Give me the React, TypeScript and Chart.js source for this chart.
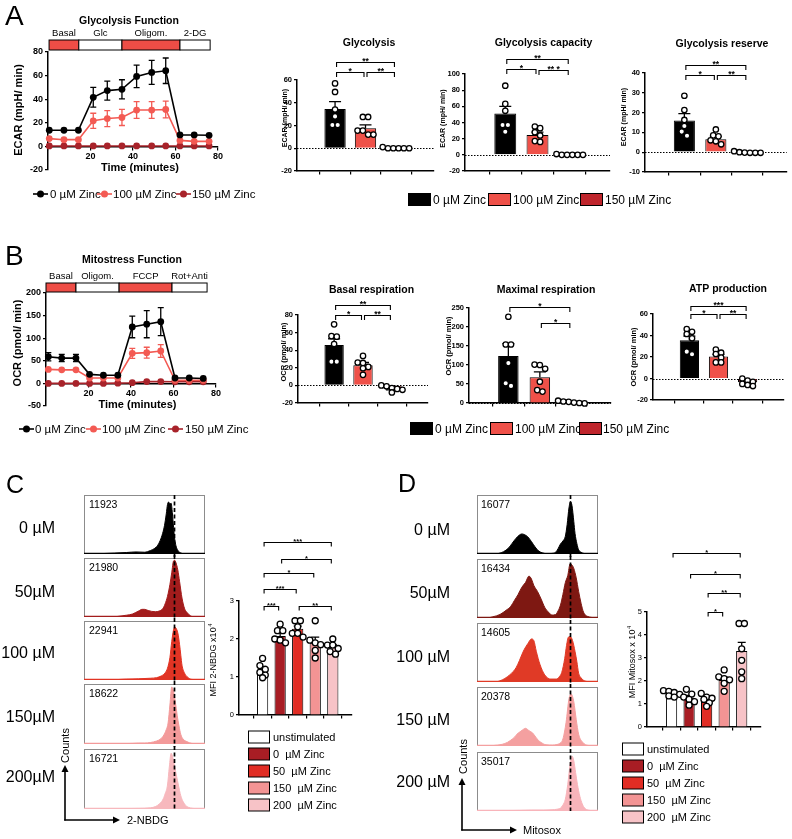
import React, { useEffect, useRef } from 'react';
import { Chart, registerables } from 'chart.js';

Chart.register(...registerables);

if (typeof document !== 'undefined') {
  document.body.style.margin = '0';
  document.body.style.background = '#ffffff';
}

const FONT = "'Liberation Sans', Arial, Helvetica, sans-serif";
const font = (size: number, bold = false) => `${bold ? 'bold ' : ''}${size}px ${FONT}`;

/* ============================== DATA ============================== */

// ---- Panel A : Glycolysis function time course (ECAR, mpH/min) ----
const gfTime = [0.6, 7.5, 14.3, 21.3, 27.9, 34.8, 41.7, 48.8, 55.4, 62.1, 68.8, 75.8];
const gfZinc0 = [13.7, 13.7, 13.7, 41.6, 47.3, 48.4, 59.3, 62.7, 64.1, 9.7, 9.7, 9.4];
const gfZinc0Sem = [1.5, 1.5, 1.5, 8.4, 8.1, 8.1, 9.5, 10.2, 10.8, 1.2, 1.2, 1.2];
const gfZinc100 = [6.6, 5.7, 5.7, 21.7, 23.6, 24.5, 30.8, 30.8, 31.3, 5.1, 4.3, 4.3];
const gfZinc100Sem = [0.8, 0.8, 0.8, 6.4, 6.8, 6.8, 7.1, 7.1, 7.1, 0.9, 0.9, 0.9];
const gfZinc150 = [0.4, 0.4, 0.4, 0.4, 0.4, 0.4, 0.4, 0.4, 0.4, 0.4, 0.4, 0.4];
const gfZinc150Sem = [0.2, 0.2, 0.2, 0.2, 0.2, 0.2, 0.2, 0.2, 0.2, 0.2, 0.2, 0.2];
const gfStageEdges = [0.5, 14.5, 34.8, 62.1, 76.3];
const gfStages = ['Basal', 'Glc', 'Oligom.', '2-DG'];

// ---- Panel A : bar summaries ----
const zincGroups = ['0 µM Zinc', '100 µM Zinc', '150 µM Zinc'];
const glycolysisMean = [34.5, 17.5, 0];
const glycolysisSem = [6.5, 3, 0];
const glycolysisDots = [[57, 49.5, 34, 28, 20.5, 20.5], [27.5, 27.5, 15.5, 15.5, 12, 12], [0, 0, 0, 0, 0, 1]];
const glycolysisSig = [
  { a: 0, b: 2, level: 76, label: '**' },
  { a: 0, b: 1, level: 67, label: '*' },
  { a: 1, b: 2, level: 67, label: '**' },
];
const capacityMean = [51, 24.5, 0];
const capacitySem = [9, 3.5, 0];
const capacityDots = [[85.5, 63, 54.5, 37, 37, 28.5], [35, 33, 28, 24, 17, 16], [0, 0, 0, 0, 0, 1]];
const capacitySig = [
  { a: 0, b: 2, level: 118.5, label: '**' },
  { a: 0, b: 1, level: 106, label: '*' },
  { a: 1, b: 2, level: 105, label: '** *' },
];
const reserveMean = [16, 6.5, 0];
const reserveSem = [3.5, 1.5, 0];
const reserveDots = [[28.5, 21.3, 16.3, 13.2, 10.4, 8.3], [11.5, 8.5, 8, 6, 5.5, 4], [0, -0.3, -0.3, -0.3, -0.2, 0.5]];
const reserveSig = [
  { a: 0, b: 2, level: 44, label: '**' },
  { a: 0, b: 1, level: 39, label: '*' },
  { a: 1, b: 2, level: 39, label: '**' },
];

// ---- Panel B : Mitostress time course (OCR, pmol/min) ----
const msTime = [1.1, 7.4, 14.1, 20.5, 27.0, 33.8, 40.6, 47.4, 54.0, 60.7, 67.4, 74.0];
const msZinc0 = [59, 56, 56, 20, 18, 18, 125, 131, 136.5, 12, 12, 11];
const msZinc0Sem = [9, 8, 8, 3, 3, 3, 24, 30, 31, 2, 2, 2];
const msZinc100 = [31, 30, 30, 12, 12, 12, 66.5, 68, 71.7, 7, 7, 7];
const msZinc100Sem = [5, 5, 5, 2, 2, 2, 11, 12, 14, 1.5, 1.5, 1.5];
const msZinc150 = [0, 0, 0, 0, 0, 0.5, 1.5, 4, 4, 3.5, 3.5, 3.5];
const msZinc150Sem = [0.5, 0.5, 0.5, 0.5, 0.5, 0.5, 0.5, 0.5, 0.5, 0.5, 0.5, 0.5];
const msStageEdges = [0, 14.1, 34.4, 59.3, 75.8];
const msStages = ['Basal', 'Oligom.', 'FCCP', 'Rot+Anti'];

// ---- Panel B : bar summaries ----
const basalMean = [46, 23, -3.5];
const basalSem = [7, 3, 1.5];
const basalDots = [[69.4, 56, 55.4, 47, 27, 27], [33.5, 26, 25.5, 21, 19.5, 12], [0, -1, -3, -4, -5, -8]];
const basalSig = [
  { a: 0, b: 2, level: 91.4, label: '**' },
  { a: 0, b: 1, level: 80, label: '*' },
  { a: 1, b: 2, level: 80, label: '**' },
];
const maximalMean = [124, 68, 3];
const maximalSem = [32, 14, 1.5];
const maximalDots = [[227, 154, 154, 105, 52, 45], [101, 100, 90, 56, 34, 30], [6, 3, 1, -1, 0, 4]];
const maximalSig = [
  { a: 0, b: 2, level: 252.6, label: '*' },
  { a: 1, b: 2, level: 210.5, label: '*' },
];
const atpMean = [35.5, 20.5, -3.5];
const atpSem = [4, 2, 1.5];
const atpDots = [[46, 43.5, 41.4, 37.4, 25, 22.5], [27, 24, 22.8, 19.4, 15, 15], [0, -2, -3, -5, -6, -7]];
const atpSig = [
  { a: 0, b: 2, level: 67.7, label: '***' },
  { a: 0, b: 1, level: 60, label: '*' },
  { a: 1, b: 2, level: 60, label: '**' },
];

// ---- Panels C / D : flow cytometry ----
const doseLabelsC = ['0 µM', '50µM', '100 µM', '150µM', '200µM'];
const doseLabelsD = ['0 µM', '50µM', '100 µM', '150 µM', '200 µM'];
const nbdgMfi = ['11923', '21980', '22941', '18622', '16721'];
const mitosoxMfi = ['16077', '16434', '14605', '20378', '35017'];
const nbdgMarker = 74.4; // % of the fluorescence axis
const mitosoxMarker = 76.9;

// histogram outlines: x = % of fluorescence axis, y = % of modal count
const nbdgShapeX = [
  [0, 12, 25, 35, 43, 50, 55, 58, 61, 63, 65, 66.5, 68, 69, 70, 71, 72, 73, 74, 75, 76, 77, 79, 81, 85, 100],
  [0, 20, 28, 35, 40, 45, 48, 50, 53, 56, 59, 62, 65, 67, 69, 71, 72.5, 74, 75, 76, 77.5, 79, 81, 83, 85, 88, 92, 100],
  [0, 25, 35, 45, 55, 60, 64, 67, 69, 71, 72.5, 74, 75, 76, 77.5, 79, 80, 81, 83, 85, 89, 100],
  [0, 30, 40, 45, 50, 55, 60, 63, 66, 68, 69.5, 71, 72.5, 74, 75.5, 77, 78.5, 80, 82, 85, 89, 100],
  [0, 30, 45, 55, 59, 62, 65, 67, 69, 70.5, 72, 73.5, 75, 76.5, 78, 80, 82, 84, 86, 90, 100],
];
const nbdgShapeY = [
  [0, 0.5, 1.5, 2.5, 3.5, 3, 6, 9, 15, 23, 35, 48, 68, 84, 88, 85, 86, 70, 45, 25, 14, 8, 3, 1, 0, 0],
  [0, 0, 1, 3, 5, 10, 13, 13, 11, 9.5, 9, 10, 14, 22, 35, 55, 75, 95, 96, 92, 80, 60, 32, 15, 8, 2, 0, 0],
  [0, 0.5, 1.5, 2, 3, 4, 7, 12, 20, 38, 65, 85, 90, 88, 80, 60, 42, 25, 12, 6, 1, 0],
  [0, 0.5, 1, 1.5, 1.5, 2.5, 5, 8, 15, 24, 35, 65, 95, 88, 70, 48, 30, 16, 8, 4, 1, 0],
  [0, 0.5, 1, 2, 4, 8, 15, 25, 40, 70, 93, 85, 70, 55, 40, 22, 12, 6, 3, 1, 0],
];
const mitosoxShapeX = [
  [0, 12, 18, 22, 26, 29, 32, 35, 37, 39, 42, 45, 48, 51, 54, 58, 62, 65, 67, 69, 71, 73, 74.5, 76, 77.3, 78.5, 80, 81, 82.5, 84, 86, 90, 100],
  [0, 8, 13, 19, 24, 28, 31, 34, 37, 40, 43, 45, 47, 50, 53, 56, 59, 62, 65, 67, 69, 71, 73, 75, 77, 78.5, 80, 82, 84, 86, 88, 91, 100],
  [0, 15, 19, 23, 27, 30, 32.5, 35, 37, 39, 42, 45, 47, 49, 52, 56, 61, 65.5, 68, 70, 72.5, 74, 75.5, 77, 79, 81, 82.5, 84, 86, 88, 92, 100],
  [0, 12, 17, 21, 25, 28, 31, 33, 35.5, 37.5, 40, 43, 46, 48.6, 51, 53, 57, 62.5, 66, 68, 71, 73.6, 76, 77.8, 80, 82, 84, 87.5, 91.7, 100],
  [0, 20, 35, 45, 55, 62, 66, 69, 71, 73, 75, 77, 78.6, 80, 81.5, 83, 85, 87, 89, 92, 100],
];
const mitosoxShapeY = [
  [0, 0, 1, 4, 10, 18, 26, 32, 34, 33, 29, 21, 12, 5, 2, 0.5, 1, 3, 9, 17, 22, 30, 50, 78, 89, 82, 55, 35, 18, 7, 3, 0.5, 0],
  [0, 0, 2, 6, 13, 20, 30, 40, 52, 60, 71, 66, 55, 45, 32, 18, 10, 5, 6, 12, 22, 40, 60, 72, 92, 90, 84, 68, 45, 25, 10, 3, 0],
  [0, 0, 2, 6, 12, 18, 25, 36, 46, 55, 65, 73, 70, 52, 30, 12, 5, 5, 9, 16, 40, 62, 76, 77, 70, 52, 35, 15, 7, 3, 0.5, 0],
  [0, 0.5, 1.5, 3, 6, 10, 15, 20, 24, 27, 30, 26, 22, 15, 9, 6, 2, 1.5, 2.5, 4, 12, 40, 80, 88, 75, 45, 20, 6, 1, 0],
  [0, 0.5, 1, 1.5, 1.5, 2, 3, 5, 10, 20, 45, 80, 93, 85, 65, 45, 25, 12, 5, 1.5, 0],
];

// ---- Panels C / D : MFI bar summaries (x10^4) ----
const mfiGroups = ['unstimulated', '0  µM Zinc', '50  µM Zinc', '150  µM Zinc', '200  µM Zinc'];
const nbdgMean = [1.2, 2.08, 2.27, 1.9, 1.78];
const nbdgSem = [0.08, 0.08, 0.07, 0.15, 0.07];
const nbdgDots = [
  [1.49, 1.3, 1.2, 1.12, 1.05, 0.98],
  [2.39, 2.22, 2.22, 2.0, 1.97, 1.9],
  [2.48, 2.48, 2.32, 2.15, 2.15, 2.05],
  [2.48, 1.97, 1.9, 1.85, 1.7, 1.5],
  [2.0, 1.84, 1.84, 1.75, 1.67, 1.6],
];
const nbdgSig = [
  { a: 0, b: 4, level: 4.55, label: '***' },
  { a: 1, b: 4, level: 4.1, label: '*' },
  { a: 0, b: 3, level: 3.74, label: '*' },
  { a: 0, b: 2, level: 3.32, label: '***' },
  { a: 0, b: 1, level: 2.87, label: '***' },
  { a: 2, b: 4, level: 2.87, label: '**' },
];
const mitosoxMean = [1.45, 1.27, 1.2, 2.04, 3.3];
const mitosoxSem = [0.05, 0.1, 0.08, 0.13, 0.38];
const mitosoxDots = [
  [1.58, 1.55, 1.5, 1.42, 1.35, 1.3],
  [1.64, 1.43, 1.3, 1.2, 1.1, 0.95],
  [1.46, 1.3, 1.25, 1.2, 1.05, 0.9],
  [2.48, 2.18, 2.1, 2.05, 1.9, 1.55],
  [4.5, 4.5, 3.4, 2.9, 2.4, 2.1],
];
const mitosoxSig = [
  { a: 0, b: 4, level: 7.57, label: '*' },
  { a: 1, b: 4, level: 6.65, label: '*' },
  { a: 2, b: 4, level: 5.83, label: '**' },
  { a: 2, b: 3, level: 5.0, label: '*' },
];

/* ============================== STYLE ============================== */
const BLACK = '#000000';
const RED = '#ef5149';
const DARK = '#bf252c';
const LINE_RED = '#f35a53';
const LINE_DARK = '#a8232a';
const STAGE_RED = '#ee4d46';
const zincColors = [BLACK, RED, DARK];
const mfiColors = ['#ffffff', '#a81d24', '#e12d24', '#f39494', '#f7c3c7'];
const histColorsC = ['#000000', '#a31c1c', '#e13424', '#f39a9a', '#f7b8bd'];
const histColorsD = ['#000000', '#7e1812', '#e03a26', '#f4a0a0', '#f8b4ba'];

/* ============================== HELPERS ============================== */
type Rect = [number, number, number, number]; // left, top, width, height
type Plot = [number, number, number, number]; // left, top, right, bottom

function frame(box: Rect, plot: Plot) {
  return {
    top: plot[1] - box[1],
    right: box[0] + box[2] - plot[2],
    yWidth: plot[0] - box[0],
    xHeight: box[1] + box[3] - plot[3],
  };
}

function drawText(ctx: any, box: Rect, s: string, x: number, y: number, f: string, align = 'center', rot = 0) {
  ctx.save();
  ctx.translate(x - box[0], y - box[1]);
  if (rot) ctx.rotate(rot);
  ctx.font = f;
  ctx.fillStyle = '#000';
  ctx.textAlign = align;
  ctx.textBaseline = 'middle';
  ctx.fillText(s, 0, 0);
  ctx.restore();
}

function drawRotated(ctx: any, box: Rect, main: string, sup: string | undefined, x: number, y: number, size: number, bold: boolean) {
  ctx.save();
  ctx.translate(x - box[0], y - box[1]);
  ctx.rotate(-Math.PI / 2);
  ctx.fillStyle = '#000';
  ctx.textBaseline = 'middle';
  ctx.textAlign = 'left';
  ctx.font = font(size, bold);
  const w1 = ctx.measureText(main).width;
  let w2 = 0;
  if (sup) {
    ctx.font = font(size * 0.65, bold);
    w2 = ctx.measureText(sup).width + 0.5;
  }
  const start = -(w1 + w2) / 2;
  ctx.font = font(size, bold);
  ctx.fillText(main, start, 0);
  if (sup) {
    ctx.font = font(size * 0.65, bold);
    ctx.fillText(sup, start + w1 + 0.5, -size * 0.45);
  }
  ctx.restore();
}

function beeswarm(els: any[], groupOf: number[], pitch: number, rowGap: number) {
  const groups: Record<number, any[]> = {};
  els.forEach((el, j) => {
    const g = groupOf[j];
    (groups[g] = groups[g] || []).push(el);
  });
  Object.values(groups).forEach(list => {
    const sorted = [...list].sort((a, b) => a.y - b.y);
    let row: any[] = [];
    const flush = () => {
      const n = row.length;
      row.forEach((el, k) => { el.x = el.x + (k - (n - 1) / 2) * pitch; });
      row = [];
    };
    sorted.forEach(el => {
      if (row.length && el.y - row[0].y > rowGap) flush();
      row.push(el);
    });
    flush();
  });
}

function ChartCanvas({ box, build }: { box: Rect; build: () => any }) {
  const ref = useRef<HTMLCanvasElement | null>(null);
  useEffect(() => {
    if (!ref.current) return;
    const chart = new Chart(ref.current, build());
    return () => chart.destroy();
  }, []);
  return (
    <canvas
      ref={ref}
      width={box[2]}
      height={box[3]}
      style={{ position: 'absolute', left: box[0], top: box[1], width: box[2], height: box[3] }}
    />
  );
}

const axisGrid = (len: number) => ({ display: true, drawOnChartArea: false, drawTicks: true, tickLength: len, color: '#000', lineWidth: 1.2 });
const axisBorder = { display: true, color: '#000', width: 1.5 };
const basePlugins = { legend: { display: false }, tooltip: { enabled: false }, title: { display: false } };

/* ---------------- time-course line chart ---------------- */
interface Series { y: number[]; err: number[]; color: string }
interface LineSpec {
  box: Rect; plot: Plot; time: number[]; series: Series[];
  yMin: number; yMax: number; yStep: number;
  edges: number[]; stages: string[]; barTop: number; barBottom: number; stageY: number;
  title: string; titleX: number; titleY: number;
  yTitle: string; yTitleX: number; yTitleY: number;
  xTitleX: number; xTitleY: number;
}

function lineConfig(s: LineSpec) {
  const fr = frame(s.box, s.plot);
  const tickFont = { family: FONT, size: 9, weight: 'bold' };
  const decor = {
    id: 'lineDecor',
    beforeDatasetsDraw(chart: any) {
      const ctx = chart.ctx; const xs = chart.scales.x; const ys = chart.scales.y;
      ctx.save();
      ctx.lineWidth = 1.3;
      [...s.series].reverse().forEach(se => {
        ctx.strokeStyle = se.color;
        s.time.forEach((t, i) => {
          const x = xs.getPixelForValue(t);
          const y1 = ys.getPixelForValue(se.y[i] - se.err[i]);
          const y2 = ys.getPixelForValue(se.y[i] + se.err[i]);
          if (Math.abs(y2 - y1) < 5) return;
          ctx.beginPath();
          ctx.moveTo(x, y1); ctx.lineTo(x, y2);
          ctx.moveTo(x - 3, y1); ctx.lineTo(x + 3, y1);
          ctx.moveTo(x - 3, y2); ctx.lineTo(x + 3, y2);
          ctx.stroke();
        });
      });
      ctx.restore();
    },
    afterDraw(chart: any) {
      const ctx = chart.ctx; const xs = chart.scales.x;
      const top = s.barTop - s.box[1]; const h = s.barBottom - s.barTop;
      ctx.save();
      for (let i = 0; i < s.stages.length; i++) {
        const x0 = xs.getPixelForValue(s.edges[i]);
        const x1 = xs.getPixelForValue(s.edges[i + 1]);
        ctx.fillStyle = i % 2 === 0 ? STAGE_RED : '#ffffff';
        ctx.fillRect(x0, top, x1 - x0, h);
        ctx.strokeStyle = '#000'; ctx.lineWidth = 1;
        ctx.strokeRect(x0, top, x1 - x0, h);
        drawText(ctx, [0, s.box[1], 0, 0], s.stages[i], (x0 + x1) / 2, s.stageY, font(9.5));
      }
      ctx.restore();
      drawText(ctx, s.box, s.title, s.titleX, s.titleY, font(10.5, true));
      drawText(ctx, s.box, s.yTitle, s.yTitleX, s.yTitleY, font(11, true), 'center', -Math.PI / 2);
      drawText(ctx, s.box, 'Time (minutes)', s.xTitleX, s.xTitleY, font(11, true));
    },
  };
  return {
    type: 'line',
    data: {
      datasets: s.series.map(se => ({
        data: s.time.map((t, i) => ({ x: t, y: se.y[i] })),
        borderColor: se.color,
        backgroundColor: se.color,
        pointBackgroundColor: se.color,
        pointBorderColor: se.color,
        pointRadius: 3.4,
        pointBorderWidth: 0,
        borderWidth: 1.6,
        tension: 0,
        clip: false,
      })),
    },
    options: {
      responsive: false,
      animation: false,
      devicePixelRatio: 1,
      events: [],
      layout: { padding: { left: 0, top: fr.top, right: fr.right, bottom: fr.xHeight } },
      plugins: basePlugins,
      scales: {
        x: {
          type: 'linear', min: 0, max: 80, position: { y: 0 },
          ticks: { stepSize: 20, font: tickFont, color: '#000', padding: 2, maxRotation: 0, callback: (v: number) => (v === 0 ? '' : String(v)) },
          grid: axisGrid(3),
          border: axisBorder,
        },
        y: {
          type: 'linear', min: s.yMin, max: s.yMax,
          afterFit: (sc: any) => { sc.width = fr.yWidth; },
          ticks: { stepSize: s.yStep, font: tickFont, color: '#000', padding: 2 },
          grid: axisGrid(3),
          border: axisBorder,
        },
      },
    },
    plugins: [decor],
  };
}

/* ---------------- bar + dot summary chart ---------------- */
interface Bracket { a: number; b: number; level: number; label: string }
interface BarSpec {
  box: Rect; plot: Plot;
  mean: number[]; sem: number[]; dots: number[][]; colors: string[];
  xMin: number; xMax: number; yMin: number; yMax: number; yStep: number;
  barPct: number; brackets: Bracket[]; zeroLine: boolean;
  title?: string; titleX?: number; titleY?: number;
  yTitle: string; ySup?: string; yTitleX: number; yTitleY: number; yTitleSize: number; yTitleBold: boolean;
  tickSize: number; tickBold: boolean;
  dotR: number; pitch: number; rowGap: number; capHalf: number; starSize: number; bracketTick: number;
}

function barConfig(s: BarSpec) {
  const fr = frame(s.box, s.plot);
  const groupOf: number[] = [];
  const dotPoints: { x: number; y: number }[] = [];
  s.dots.forEach((g, i) => g.forEach(v => { groupOf.push(i); dotPoints.push({ x: i, y: v }); }));
  const tickFont = { family: FONT, size: s.tickSize, weight: s.tickBold ? 'bold' : 'normal' };
  const decor = {
    id: 'barDecor',
    afterDatasetUpdate(chart: any, args: any) {
      if (args.index !== 0) return;
      beeswarm(args.meta.data, groupOf, s.pitch, s.rowGap);
    },
    beforeDatasetsDraw(chart: any) {
      if (!s.zeroLine) return;
      const ctx = chart.ctx; const a = chart.chartArea;
      const y = Math.round(chart.scales.y.getPixelForValue(0)) + 0.5;
      ctx.save();
      ctx.strokeStyle = '#000'; ctx.lineWidth = 1; ctx.setLineDash([1.5, 1.5]);
      ctx.beginPath(); ctx.moveTo(a.left, y); ctx.lineTo(a.right, y); ctx.stroke();
      ctx.restore();
    },
    afterDatasetDraw(chart: any, args: any) {
      if (args.index !== 1) return;
      const ctx = chart.ctx; const ys = chart.scales.y;
      ctx.save();
      ctx.strokeStyle = '#000'; ctx.lineWidth = 1.3;
      args.meta.data.forEach((bar: any, i: number) => {
        const m = s.mean[i]; const e = s.sem[i]; const dir = m < 0 ? -1 : 1;
        const y0 = ys.getPixelForValue(m); const y1 = ys.getPixelForValue(m + dir * e);
        if (Math.abs(y1 - y0) < 0.8) return;
        ctx.beginPath();
        ctx.moveTo(bar.x, y0); ctx.lineTo(bar.x, y1);
        ctx.moveTo(bar.x - s.capHalf, y1); ctx.lineTo(bar.x + s.capHalf, y1);
        ctx.stroke();
      });
      ctx.restore();
    },
    afterDraw(chart: any) {
      const ctx = chart.ctx; const xs = chart.scales.x; const ys = chart.scales.y;
      ctx.save();
      ctx.strokeStyle = '#000'; ctx.lineWidth = 1.1; ctx.fillStyle = '#000';
      s.brackets.forEach(b => {
        const xa = xs.getPixelForValue(b.a) + 1.5;
        const xb = xs.getPixelForValue(b.b) - 1.5;
        const y = Math.round(ys.getPixelForValue(b.level)) + 0.5;
        ctx.beginPath();
        ctx.moveTo(xa, y + s.bracketTick); ctx.lineTo(xa, y); ctx.lineTo(xb, y); ctx.lineTo(xb, y + s.bracketTick);
        ctx.stroke();
        ctx.font = font(s.starSize, true);
        ctx.textAlign = 'center'; ctx.textBaseline = 'alphabetic';
        ctx.fillText(b.label, (xa + xb) / 2, y + 1);
      });
      ctx.restore();
      if (s.title) drawText(ctx, s.box, s.title, s.titleX as number, s.titleY as number, font(10.5, true));
      drawRotated(ctx, s.box, s.yTitle, s.ySup, s.yTitleX, s.yTitleY, s.yTitleSize, s.yTitleBold);
    },
  };
  return {
    type: 'bar',
    data: {
      datasets: [
        {
          type: 'scatter',
          data: dotPoints,
          pointRadius: s.dotR,
          pointBackgroundColor: '#ffffff',
          pointBorderColor: '#000000',
          pointBorderWidth: 1.3,
          clip: false,
        },
        {
          type: 'bar',
          data: s.mean.map((m, i) => ({ x: i, y: m })),
          backgroundColor: s.colors,
          borderColor: '#000000',
          borderWidth: 1,
          barPercentage: s.barPct,
          categoryPercentage: 1,
        },
      ],
    },
    options: {
      responsive: false,
      animation: false,
      devicePixelRatio: 1,
      events: [],
      layout: { padding: { left: 0, top: fr.top, right: fr.right, bottom: 0 } },
      plugins: basePlugins,
      scales: {
        x: {
          type: 'linear', min: s.xMin, max: s.xMax, position: 'bottom',
          afterBuildTicks: (sc: any) => { sc.ticks = s.mean.map((_, i) => ({ value: i })); },
          afterFit: (sc: any) => { sc.height = fr.xHeight; },
          ticks: { callback: () => '' },
          grid: axisGrid(3.5),
          border: axisBorder,
        },
        y: {
          type: 'linear', min: s.yMin, max: s.yMax,
          afterFit: (sc: any) => { sc.width = fr.yWidth; },
          ticks: { stepSize: s.yStep, font: tickFont, color: '#000', padding: 2 },
          grid: axisGrid(3),
          border: axisBorder,
        },
      },
    },
    plugins: [decor],
  };
}

/* ---------------- histogram ---------------- */
interface HistSpec { rect: Plot; xs: number[]; ys: number[]; color: string; mfi: string; marker: number; first: boolean; last: boolean; textDy: number; textDx: number }

function histBox(s: HistSpec): Rect {
  return [s.rect[0], s.rect[1] - 3, s.rect[2] - s.rect[0], s.rect[3] - s.rect[1] + 6];
}

function histConfig(s: HistSpec) {
  const decor = {
    id: 'histDecor',
    afterDraw(chart: any) {
      const ctx = chart.ctx; const a = chart.chartArea; const xs = chart.scales.x;
      ctx.save();
      ctx.strokeStyle = '#8c8c8c'; ctx.lineWidth = 1;
      ctx.strokeRect(a.left + 0.5, a.top + 0.5, a.right - a.left - 1, a.bottom - a.top - 1);
      ctx.strokeStyle = s.color; ctx.lineWidth = 1.3;
      ctx.beginPath(); ctx.moveTo(a.left, a.bottom - 0.7); ctx.lineTo(a.right, a.bottom - 0.7); ctx.stroke();
      const mx = Math.round(xs.getPixelForValue(s.marker)) + 0.5;
      ctx.strokeStyle = '#000'; ctx.lineWidth = 1.7; ctx.setLineDash([4, 2.5]);
      ctx.beginPath();
      ctx.moveTo(mx, s.first ? a.top : 0);
      ctx.lineTo(mx, s.last ? a.bottom : chart.height);
      ctx.stroke();
      ctx.setLineDash([]);
      ctx.font = font(10.5); ctx.fillStyle = '#000'; ctx.textAlign = 'left'; ctx.textBaseline = 'alphabetic';
      ctx.fillText(s.mfi, a.left + s.textDx, a.top + s.textDy);
      ctx.restore();
    },
  };
  return {
    type: 'line',
    data: {
      datasets: [{
        data: s.xs.map((x, i) => ({ x, y: s.ys[i] })),
        borderColor: s.color,
        backgroundColor: s.color,
        fill: 'origin',
        pointRadius: 0,
        borderWidth: 1,
        cubicInterpolationMode: 'monotone',
      }],
    },
    options: {
      responsive: false,
      animation: false,
      devicePixelRatio: 1,
      events: [],
      layout: { padding: { left: 0, right: 0, top: 3, bottom: 3 } },
      plugins: basePlugins,
      scales: {
        x: { type: 'linear', min: 0, max: 100, display: false },
        y: { type: 'linear', min: 0, max: 100, display: false },
      },
    },
    plugins: [decor],
  };
}

/* ============================== SPECS ============================== */
const A_LINE: LineSpec = {
  box: [0, 0, 262, 180], plot: [48, 52, 218, 170], time: gfTime,
  series: [
    { y: gfZinc0, err: gfZinc0Sem, color: BLACK },
    { y: gfZinc100, err: gfZinc100Sem, color: LINE_RED },
    { y: gfZinc150, err: gfZinc150Sem, color: LINE_DARK },
  ],
  yMin: -20, yMax: 80, yStep: 20,
  edges: gfStageEdges, stages: gfStages, barTop: 40, barBottom: 50, stageY: 33,
  title: 'Glycolysis Function', titleX: 129, titleY: 21,
  yTitle: 'ECAR (mpH/ min)', yTitleX: 19, yTitleY: 110,
  xTitleX: 140, xTitleY: 168,
};

const B_LINE: LineSpec = {
  box: [0, 240, 262, 180], plot: [46, 293, 216, 406], time: msTime,
  series: [
    { y: msZinc0, err: msZinc0Sem, color: BLACK },
    { y: msZinc100, err: msZinc100Sem, color: LINE_RED },
    { y: msZinc150, err: msZinc150Sem, color: LINE_DARK },
  ],
  yMin: -50, yMax: 200, yStep: 50,
  edges: msStageEdges, stages: msStages, barTop: 283, barBottom: 292, stageY: 276,
  title: 'Mitostress Function', titleX: 132, titleY: 260,
  yTitle: 'OCR (pmol/ min)', yTitleX: 18, yTitleY: 343,
  xTitleX: 137.5, xTitleY: 405,
};

const seahorseBar = {
  colors: zincColors, xMin: -0.5, xMax: 2.5, tickSize: 7.5, tickBold: true,
  yTitleSize: 7, yTitleBold: true, dotR: 2.7, pitch: 5.3, rowGap: 4.5, capHalf: 6, starSize: 8.5, bracketTick: 4.5,
};

const GLY: BarSpec = {
  ...seahorseBar, box: [276, 30, 164, 150], plot: [297, 80, 434, 171],
  mean: glycolysisMean, sem: glycolysisSem, dots: glycolysisDots, brackets: glycolysisSig,
  yMin: -20, yMax: 60, yStep: 20, barPct: 0.7, zeroLine: true,
  title: 'Glycolysis', titleX: 369, titleY: 43, yTitle: 'ECAR (mpH/ min)', yTitleX: 285.5, yTitleY: 118,
};
const CAP: BarSpec = {
  ...seahorseBar, box: [436, 30, 180, 150], plot: [465, 74, 610, 171],
  mean: capacityMean, sem: capacitySem, dots: capacityDots, brackets: capacitySig,
  yMin: -20, yMax: 100, yStep: 20, barPct: 0.68, zeroLine: true,
  title: 'Glycolysis capacity', titleX: 543.5, titleY: 43, yTitle: 'ECAR (mpH/ min)', yTitleX: 443.5, yTitleY: 118.5,
};
const RES: BarSpec = {
  ...seahorseBar, box: [612, 30, 180, 150], plot: [645, 73, 792, 172],
  mean: reserveMean, sem: reserveSem, dots: reserveDots, brackets: reserveSig,
  yMin: -10, yMax: 40, yStep: 10, barPct: 0.67, zeroLine: true,
  title: 'Glycolysis reserve', titleX: 722, titleY: 44, yTitle: 'ECAR (mpH/ min)', yTitleX: 624.5, yTitleY: 117,
};
const BAS: BarSpec = {
  ...seahorseBar, yTitleSize: 7.5, box: [272, 275, 168, 140], plot: [298, 315, 428, 403],
  mean: basalMean, sem: basalSem, dots: basalDots, brackets: basalSig,
  yMin: -20, yMax: 80, yStep: 20, barPct: 0.67, zeroLine: true,
  title: 'Basal respiration', titleX: 371.5, titleY: 290, yTitle: 'OCR (pmol/ min)', yTitleX: 284, yTitleY: 352,
};
const MAXR: BarSpec = {
  ...seahorseBar, yTitleSize: 7.5, box: [440, 275, 176, 140], plot: [469, 308, 612, 403],
  mean: maximalMean, sem: maximalSem, dots: maximalDots, brackets: maximalSig,
  yMin: 0, yMax: 250, yStep: 50, barPct: 0.65, zeroLine: true,
  title: 'Maximal respiration', titleX: 546, titleY: 290, yTitle: 'OCR (pmol/ min)', yTitleX: 449, yTitleY: 346,
};
const ATP: BarSpec = {
  ...seahorseBar, yTitleSize: 7.5, box: [616, 275, 176, 140], plot: [653, 314, 784, 400],
  mean: atpMean, sem: atpSem, dots: atpDots, brackets: atpSig,
  yMin: -20, yMax: 60, yStep: 20, barPct: 0.66, zeroLine: true,
  title: 'ATP production', titleX: 728, titleY: 289, yTitle: 'OCR (pmol/ min)', yTitleX: 634, yTitleY: 357,
};

const flowBar = {
  colors: mfiColors, xMin: -0.7, xMax: 4.45, yMin: 0, yStep: 1, tickSize: 7.5, tickBold: false,
  yTitleSize: 9, yTitleBold: false, ySup: '4', dotR: 3, pitch: 5.4, rowGap: 5, capHalf: 4, starSize: 7.5, bracketTick: 4,
  barPct: 0.64, zeroLine: false,
};
const NBDG: BarSpec = {
  ...flowBar, box: [196, 525, 170, 205], plot: [239, 601, 352, 715], yMax: 3,
  mean: nbdgMean, sem: nbdgSem, dots: nbdgDots, brackets: nbdgSig,
  yTitle: 'MFI 2-NBDG x10', yTitleX: 214, yTitleY: 660,
};
const MITO: BarSpec = {
  ...flowBar, xMin: -0.75, box: [600, 535, 170, 210], plot: [647, 612, 761, 727], yMax: 5,
  mean: mitosoxMean, sem: mitosoxSem, dots: mitosoxDots, brackets: mitosoxSig,
  yTitle: 'MFI Mitosox x 10', yTitleX: 633, yTitleY: 662,
};

const histRowsC: Plot[] = [[84, 495, 205, 554], [84, 558, 205, 617], [84, 621, 205, 680], [84, 684, 205, 744], [84, 749, 205, 809]];
const histRowsD: Plot[] = [[477, 495, 598, 554], [477, 559, 598, 618], [477, 623, 598, 682], [477, 687, 598, 746], [477, 752, 598, 811]];

const HIST_C: HistSpec[] = histRowsC.map((r, i) => ({
  rect: r, xs: nbdgShapeX[i], ys: nbdgShapeY[i], color: histColorsC[i], mfi: nbdgMfi[i], marker: nbdgMarker,
  first: i === 0, last: i === 4, textDx: 5, textDy: 12.5,
}));
const HIST_D: HistSpec[] = histRowsD.map((r, i) => ({
  rect: r, xs: mitosoxShapeX[i], ys: mitosoxShapeY[i], color: histColorsD[i], mfi: mitosoxMfi[i], marker: mitosoxMarker,
  first: i === 0, last: i === 4, textDx: 4, textDy: 13,
}));

/* ============================== OVERLAY (static text) ============================== */
function LineLegend({ y, icons, texts }: { y: number; icons: number[]; texts: number[] }) {
  const cols = [BLACK, LINE_RED, LINE_DARK];
  return (
    <g>
      {zincGroups.map((g, i) => (
        <g key={g}>
          <line x1={icons[i] - 7.5} x2={icons[i] + 7.5} y1={y} y2={y} stroke={cols[i]} strokeWidth={1.6} />
          <circle cx={icons[i]} cy={y} r={3.5} fill={cols[i]} />
          <text x={texts[i]} y={y + 4.2} fontSize={11.5}>{g}</text>
        </g>
      ))}
    </g>
  );
}

function BoxLegend({ top, boxes, texts }: { top: number; boxes: number[]; texts: number[] }) {
  return (
    <g>
      {zincGroups.map((g, i) => (
        <g key={g}>
          <rect x={boxes[i] + 0.5} y={top + 0.5} width={22} height={12} fill={zincColors[i]} stroke="#000" strokeWidth={1} />
          <text x={texts[i]} y={top + 11} fontSize={12}>{g}</text>
        </g>
      ))}
    </g>
  );
}

function MfiLegend({ x, rows }: { x: number; rows: number[] }) {
  return (
    <g>
      {mfiGroups.map((g, i) => (
        <g key={g}>
          <rect x={x + 0.5} y={rows[i] - 6} width={21} height={12} fill={mfiColors[i]} stroke="#000" strokeWidth={1} />
          <text x={x + 25} y={rows[i] + 4} fontSize={11} style={{ whiteSpace: 'pre' }}>{g}</text>
        </g>
      ))}
    </g>
  );
}

function Overlay() {
  const baseC = [533, 597, 658, 722, 782];
  const baseD = [535, 598, 662, 725, 787];
  return (
    <svg width={792} height={839} style={{ position: 'absolute', left: 0, top: 0, pointerEvents: 'none' }} fontFamily={FONT}>
      <text x={5} y={25} fontSize={28}>A</text>
      <text x={5} y={265} fontSize={28}>B</text>
      <text x={6} y={493} fontSize={25}>C</text>
      <text x={398} y={492} fontSize={25}>D</text>

      <LineLegend y={194} icons={[40.5, 104.5, 183.5]} texts={[50, 113, 192]} />
      <LineLegend y={429} icons={[26.5, 93.5, 175.5]} texts={[35, 102, 185]} />
      <BoxLegend top={193} boxes={[408, 488, 580]} texts={[433, 513, 605]} />
      <BoxLegend top={422} boxes={[410, 490, 579]} texts={[435, 515, 603]} />

      {doseLabelsC.map((d, i) => (
        <text key={'c' + i} x={55} y={baseC[i]} fontSize={16} textAnchor="end">{d}</text>
      ))}
      {doseLabelsD.map((d, i) => (
        <text key={'d' + i} x={450} y={baseD[i]} fontSize={16} textAnchor="end">{d}</text>
      ))}

      <MfiLegend x={248} rows={[737, 754, 771, 788, 805]} />
      <MfiLegend x={622} rows={[749, 766, 783, 800, 817]} />

      {/* C axes arrows */}
      <line x1={65} y1={820.5} x2={65} y2={771} stroke="#000" strokeWidth={1.6} />
      <polygon points="65,765 61.5,772 68.5,772" fill="#000" />
      <line x1={64.2} y1={820} x2={114} y2={820} stroke="#000" strokeWidth={1.6} />
      <polygon points="120,820 113,816.5 113,823.5" fill="#000" />
      <text transform="translate(69,745.5) rotate(-90)" fontSize={11} textAnchor="middle">Counts</text>
      <text x={127} y={824} fontSize={11}>2-NBDG</text>

      {/* D axes arrows */}
      <line x1={462} y1={830.5} x2={462} y2={784} stroke="#000" strokeWidth={1.6} />
      <polygon points="462,778 458.5,785 465.5,785" fill="#000" />
      <line x1={461.2} y1={830} x2={511} y2={830} stroke="#000" strokeWidth={1.6} />
      <polygon points="517,830 510,826.5 510,833.5" fill="#000" />
      <text transform="translate(466.5,756.5) rotate(-90)" fontSize={11} textAnchor="middle">Counts</text>
      <text x={523} y={834} fontSize={11}>Mitosox</text>
    </svg>
  );
}

/* ============================== APP ============================== */
export default function App() {
  return (
    <div style={{ position: 'relative', width: 792, height: 839, background: '#ffffff', overflow: 'hidden' }}>
      <ChartCanvas box={A_LINE.box} build={() => lineConfig(A_LINE)} />
      <ChartCanvas box={B_LINE.box} build={() => lineConfig(B_LINE)} />
      {[GLY, CAP, RES, BAS, MAXR, ATP, NBDG, MITO].map((s, i) => (
        <ChartCanvas key={'bar' + i} box={s.box} build={() => barConfig(s)} />
      ))}
      {[...HIST_C, ...HIST_D].map((h, i) => (
        <ChartCanvas key={'hist' + i} box={histBox(h)} build={() => histConfig(h)} />
      ))}
      <Overlay />
    </div>
  );
}
